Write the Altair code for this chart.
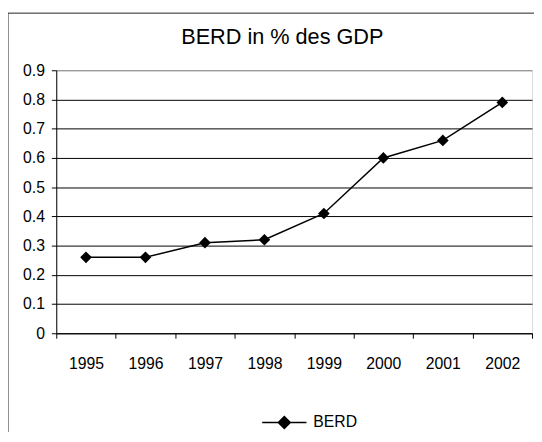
import altair as alt
import pandas as pd

years = ["1995", "1996", "1997", "1998", "1999", "2000", "2001", "2002"]
berd = [0.26, 0.26, 0.31, 0.32, 0.41, 0.60, 0.66, 0.79]
series = "BERD"
y_ticks = [0, 0.1, 0.2, 0.3, 0.4, 0.5, 0.6, 0.7, 0.8, 0.9]

df = pd.DataFrame({"year": years, "value": berd, "series": [series] * len(years)})

FONT = "Liberation Sans"

line = alt.Chart(df).mark_line(
    color="black", strokeWidth=1.5,
    point=alt.OverlayMarkDef(shape="diamond", size=140, filled=True, color="black", opacity=1),
).encode(
    x=alt.X("year:N", sort=years, title=None,
            scale=alt.Scale(paddingInner=0, paddingOuter=0),
            axis=alt.Axis(labelAngle=0, tickBand="extent", grid=False, tickSize=5,
                          labelPadding=18, labelFontSize=16, labelFont=FONT,
                          labelColor="black", domainColor="black", tickColor="black",
                          labelBaseline="top")),
    y=alt.Y("value:Q", title=None,
            scale=alt.Scale(domain=[0, 0.9], nice=False, zero=True),
            axis=alt.Axis(values=y_ticks, format=".1~f", tickSize=5, labelPadding=7,
                          labelFontSize=16, labelFont=FONT, labelColor="black",
                          domainColor="black", tickColor="black",
                          gridColor={"condition": {"test": "datum.value > 0.85", "value": "#808080"},
                                     "value": "black"},
                          gridWidth=1)),
    color=alt.Color("series:N", scale=alt.Scale(domain=[series], range=["black"]),
                    legend=alt.Legend(title=None, orient="none", legendX=208, legendY=334,
                                      symbolType="M-1,0H1M0,-0.27L0.27,0L0,0.27L-0.27,0Z",
                                      symbolSize=2025, symbolFillColor="black",
                                      symbolStrokeColor="black", symbolStrokeWidth=1.5,
                                      labelFontSize=16, labelFont=FONT, labelColor="black",
                                      labelOffset=6)),
)

frame = alt.Chart(pd.DataFrame({"a": [0]})).mark_rect(
    fillOpacity=0, stroke="#222222", strokeWidth=1, clip=False
).encode(
    x=alt.value(-49), x2=alt.value(700), y=alt.value(-58), y2=alt.value(600)
)

chart = alt.layer(frame, line).properties(
    width=483, height=267,
    padding={"left": 49, "top": 60, "right": 2, "bottom": 97},
    autosize=alt.AutoSizeParams(type="none"),
    title=alt.TitleParams("BERD in % des GDP", fontSize=22, fontWeight="normal", font=FONT,
                          color="black", anchor="middle", frame="group", dx=-12,
                          offset=-54, baseline="alphabetic"),
).configure_view(stroke="#808080", strokeWidth=1).configure(background="white")

chart.save("out.html", embed_options={"renderer": "svg", "actions": False})
